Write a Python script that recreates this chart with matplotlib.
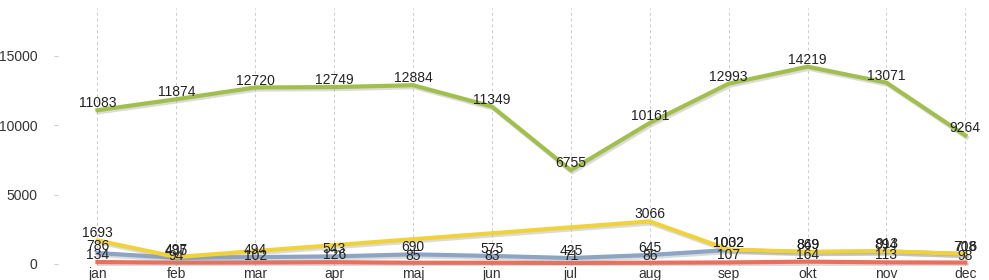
import matplotlib
matplotlib.use("Agg")
import matplotlib.pyplot as plt
import matplotlib.patheffects as pe
import numpy as np

months = ["jan", "feb", "mar", "apr", "maj", "jun", "jul", "aug", "sep", "okt", "nov", "dec"]
green = [11083, 11874, 12720, 12749, 12884, 11349, 6755, 10161, 12993, 14219, 13071, 9264]
yellow = [1693, 497, None, None, None, None, None, 3066, 1032, 869, 913, 716]
blue = [786, 435, 494, 543, 690, 575, 425, 645, 1002, 849, 894, 708]
red = [134, 94, 102, 126, 85, 83, 71, 86, 107, 164, 113, 98]

series = [
    (red, "#e8705f"),
    (blue, "#8ea4c3"),
    (yellow, "#f0d23c"),
    (green, "#a2be4c"),
]

plt.rcParams['font.family'] = ['Liberation Sans', 'DejaVu Sans']
fig = plt.figure(figsize=(9.89, 2.80), dpi=100)
ax = fig.add_axes([58/989, 1 - 266/280, 1 - 58/989, (266 - 8)/280])

x_all = np.arange(len(months))
shadow = [pe.SimpleLineShadow(offset=(1, -1.5), shadow_color="#999999", alpha=0.35), pe.Normal()]
for vals, col in series:
    xs = [i for i, v in enumerate(vals) if v is not None]
    ys = [v for v in vals if v is not None]
    ax.plot(xs, ys, color=col, lw=3.0, solid_joinstyle="round", zorder=3,
            path_effects=shadow)

for vals, col in series:
    for i, v in enumerate(vals):
        if v is None:
            continue
        ax.annotate(str(v), (i, v), xytext=(0, 5), textcoords="offset points",
                    ha="center", va="center", fontsize=10, color="#222222", zorder=5)

ax.set_xlim(-0.5, 11.3)
ax.set_ylim(-150, 18450)
ax.set_xticks(x_all)
ax.set_xticklabels(months)
ax.set_yticks([0, 5000, 10000, 15000])
ax.tick_params(axis="x", length=0, labelsize=10, labelcolor="#333333", pad=1)
ax.tick_params(axis="y", length=3, color="#cccccc", labelsize=10, labelcolor="#333333", pad=12)
for s in ax.spines.values():
    s.set_visible(False)
ax.grid(axis="x", color="#cccccc", linestyle=(0, (3, 3)), linewidth=0.7)
ax.set_axisbelow(True)

fig.savefig("out.png", dpi=100)
